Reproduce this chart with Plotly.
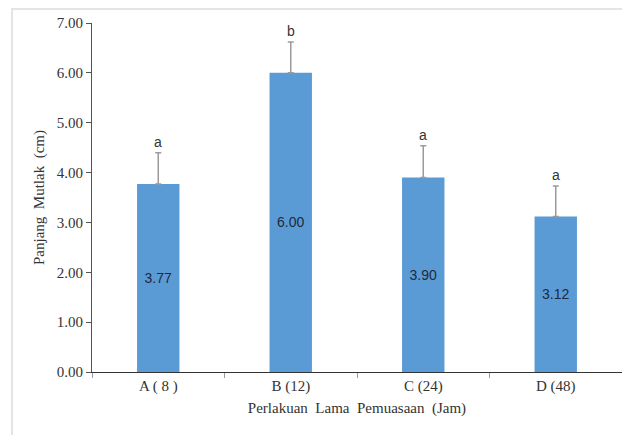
import plotly.graph_objects as go

categories = ["A ( 8 )", "B (12)", "C (24)", "D (48)"]
values = [3.77, 6.00, 3.90, 3.12]
errors = [0.63, 0.62, 0.64, 0.61]
letters = ["a", "b", "a", "a"]
value_labels = ["3.77", "6.00", "3.90", "3.12"]

serif = "Liberation Serif"
sans = "Liberation Sans"

fig = go.Figure()
fig.add_trace(go.Bar(
    x=categories, y=values,
    marker=dict(color="#5b9bd5", line=dict(width=0)),
    width=0.32,
    text=value_labels, textposition="inside", insidetextanchor="middle",
    textfont=dict(family=sans, size=14, color="#1f2a3a"),
    textangle=0,
    error_y=dict(type="data", symmetric=False, array=errors,
                 arrayminus=[0] * len(errors), color="#9a9a9a",
                 thickness=1.5, width=3),
))

for c, v, e, l in zip(categories, values, errors, letters):
    fig.add_annotation(x=c, y=v + e, text=l, showarrow=False,
                       yanchor="bottom", yshift=1,
                       font=dict(family=sans, size=14, color="#333333"))

# light outer frame
fig.add_shape(type="rect", xref="paper", yref="paper",
              x0=-0.151, x1=1.03, y0=-0.185, y1=1.04,
              line=dict(color="#e4e4e4", width=2), layer="below")

fig.update_layout(
    width=622, height=427,
    margin=dict(l=84, r=8, t=15, b=63),
    paper_bgcolor="white", plot_bgcolor="white",
    showlegend=False,
    font=dict(family=serif, size=15, color="#333333"),
    xaxis=dict(
        showline=True, linecolor="#333333", linewidth=1.2,
        ticks="outside", tickson="boundaries", ticklen=5,
        tickcolor="#9a9a9a", showgrid=False,
        tickfont=dict(family=serif, size=15, color="#333333"),
        title=dict(text="Perlakuan  Lama  Pemuasaan  (Jam)",
                   font=dict(family=serif, size=15, color="#333333"),
                   standoff=8),
    ),
    yaxis=dict(
        range=[0, 7], dtick=1, tickformat=".2f",
        showline=True, linecolor="#555555", linewidth=1.2,
        ticks="outside", ticklen=5, tickcolor="#555555",
        showgrid=False, zeroline=False,
        tickfont=dict(family=serif, size=15, color="#333333"),
        title=dict(text="Panjang  Mutlak  (cm)",
                   font=dict(family=serif, size=15, color="#333333"),
                   standoff=8),
    ),
)

fig.write_html("out.html")
